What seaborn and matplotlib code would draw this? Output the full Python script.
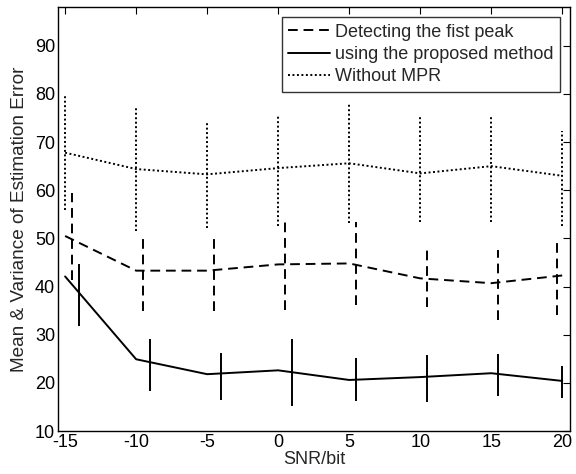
import matplotlib
matplotlib.use("Agg")
import matplotlib.pyplot as plt
import seaborn as sns
import numpy as np
import pandas as pd

snr = [-15, -10, -5, 0, 5, 10, 15, 20]

# Without MPR (dotted)
mpr_mean = [67.8, 64.4, 63.3, 64.6, 65.6, 63.5, 65.0, 63.0]
mpr_bar_x = [-15, -10, -5, 0, 5, 10, 15, 20]
mpr_bar_c = [67.7, 64.45, 63.3, 64.1, 65.5, 64.5, 64.5, 62.4]
mpr_bar_e = [11.9, 13.0, 11.1, 11.5, 12.4, 11.1, 11.1, 9.9]

# Detecting the fist peak (dashed)
peak_mean = [50.5, 43.3, 43.3, 44.6, 44.8, 41.7, 40.7, 42.3]
peak_bar_x = [-14.5, -9.5, -4.5, 0.5, 5.5, 10.5, 15.5, 19.6]
peak_bar_c = [50.4, 42.9, 42.9, 44.7, 44.8, 41.75, 40.3, 42.0]
peak_bar_e = [9.0, 8.0, 8.0, 9.55, 8.65, 6.05, 7.2, 7.95]

# Using the proposed method (solid)
prop_mean = [42.1, 24.9, 21.8, 22.6, 20.6, 21.2, 22.0, 20.4]
prop_bar_x = [-14, -9, -4, 1, 5.5, 10.5, 15.5, 20]
prop_bar_c = [38.25, 23.7, 21.35, 22.1, 20.7, 20.9, 21.6, 20.2]
prop_bar_e = [6.45, 5.4, 4.85, 7.0, 4.4, 4.9, 4.4, 3.4]

sns.set_theme(style="white")
plt.rcParams['font.family'] = ['Liberation Sans', 'DejaVu Sans']
plt.rcParams['axes.linewidth'] = 1.0
plt.rcParams['axes.unicode_minus'] = False

fig = plt.figure(figsize=(5.76, 4.74), dpi=100)
ax = fig.add_axes([0.1007, 0.0907, 0.889, 0.894])

df = pd.DataFrame({
    "snr": snr * 3,
    "val": peak_mean + prop_mean + mpr_mean,
    "series": (["Detecting the fist peak"] * 8 + ["using the proposed method"] * 8
               + ["Without MPR"] * 8),
})

styles = {
    "Detecting the fist peak": (0, (5, 3)),
    "using the proposed method": "-",
    "Without MPR": (0, (1, 1.3)),
}
for name, grp in df.groupby("series", sort=False):
    sns.lineplot(data=grp, x="snr", y="val", ax=ax, color="black",
                 linestyle=styles[name], linewidth=1.4, label=name)

bars = [
    (peak_bar_x, peak_bar_c, peak_bar_e, styles["Detecting the fist peak"]),
    (prop_bar_x, prop_bar_c, prop_bar_e, "-"),
    (mpr_bar_x, mpr_bar_c, mpr_bar_e, styles["Without MPR"]),
]
for bx, bc, be, ls in bars:
    bc = np.array(bc)
    be = np.array(be)
    ax.vlines(bx, bc - be, bc + be, colors="black", linestyles=[ls], linewidth=1.4)

ax.set_xlim(-15.5, 20.55)
ax.set_ylim(10, 98)
ax.set_xticks(snr)
ax.set_yticks(range(10, 91, 10))
ax.tick_params(direction="in", top=True, right=True, length=5, width=0.8,
               labelsize=13, colors="black", pad=2)
for s in ax.spines.values():
    s.set_color("black")
ax.set_xlabel("SNR/bit", fontsize=13, labelpad=0)
ax.set_ylabel("Mean & Variance of Estimation Error", fontsize=13.7, labelpad=5)

leg = ax.legend(loc="upper right", fontsize=13, frameon=True, fancybox=False,
                edgecolor="black", handlelength=2.3, borderaxespad=0.55,
                borderpad=0.35, labelspacing=0.3, handletextpad=0.3)
leg.get_frame().set_linewidth(1.0)

fig.savefig("out.png", dpi=100)
